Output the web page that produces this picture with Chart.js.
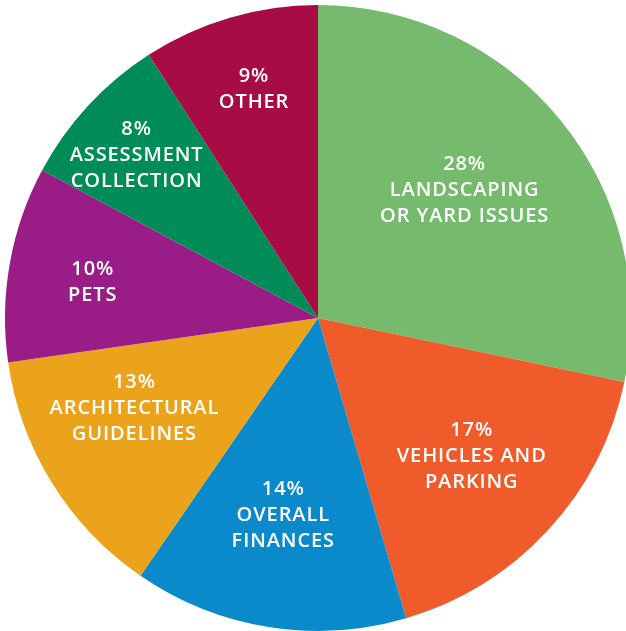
<!DOCTYPE html>
<html>
<head>
<meta charset="utf-8">
<script src="https://cdn.jsdelivr.net/npm/chart.js@4"></script>
<style>
html,body{margin:0;padding:0;background:#fff;overflow:hidden;width:626px;height:631px;}
#wrap{position:absolute;left:0;top:0;width:636px;height:636px;}
</style>
</head>
<body>
<div id="wrap"><canvas id="c" width="636" height="636"></canvas></div>
<script>
const categories = ["LANDSCAPING\nOR YARD ISSUES", "VEHICLES AND\nPARKING", "OVERALL\nFINANCES", "ARCHITECTURAL\nGUIDELINES", "PETS", "ASSESSMENT\nCOLLECTION", "OTHER"];
const percentages = [28, 17, 14, 13, 10, 8, 9];
const sliceColors = ["#75BA6D", "#EF5B2B", "#0A89CB", "#EBA31C", "#9A1C87", "#008C58", "#A80C45"];
const labelRadiusFraction = [0.62, 0.66, 0.64, 0.655, 0.73, 0.78, 0.76];
const labelAngleFraction = [0.48, 0.49, 0.52, 0.62, 0.47, 0.47, 0.52];

const labelPlugin = {
  id: 'sliceLabels',
  afterDatasetsDraw(chart) {
    const ctx = chart.ctx;
    const meta = chart.getDatasetMeta(0);
    ctx.save();
    ctx.fillStyle = '#ffffff';
    ctx.textAlign = 'center';
    ctx.textBaseline = 'middle';
    ctx.font = '600 20px "Open Sans", Lato, sans-serif';
    if ('letterSpacing' in ctx) ctx.letterSpacing = '0.9px';
    const lh = 26;
    meta.data.forEach((arc, i) => {
      const p = arc.getProps(['x','y','startAngle','endAngle','outerRadius'], true);
      const a = p.startAngle + (p.endAngle - p.startAngle) * labelAngleFraction[i];
      const r = p.outerRadius * labelRadiusFraction[i];
      const cx = p.x + Math.cos(a) * r;
      const cy = p.y + Math.sin(a) * r;
      const lines = [percentages[i] + '%'].concat(categories[i].split('\n'));
      const y0 = cy - (lines.length - 1) * lh / 2;
      lines.forEach((t, k) => ctx.fillText(t, cx + 0.45, y0 + k * lh));
    });
    ctx.restore();
  }
};

new Chart(document.getElementById('c'), {
  type: 'pie',
  data: {
    labels: categories,
    datasets: [{
      data: percentages,
      backgroundColor: sliceColors,
      borderWidth: 0
    }]
  },
  options: {
    responsive: false,
    animation: false,
    layout: { padding: 5 },
    plugins: { legend: { display: false }, tooltip: { enabled: false } }
  },
  plugins: [labelPlugin]
});
</script>
</body>
</html>
